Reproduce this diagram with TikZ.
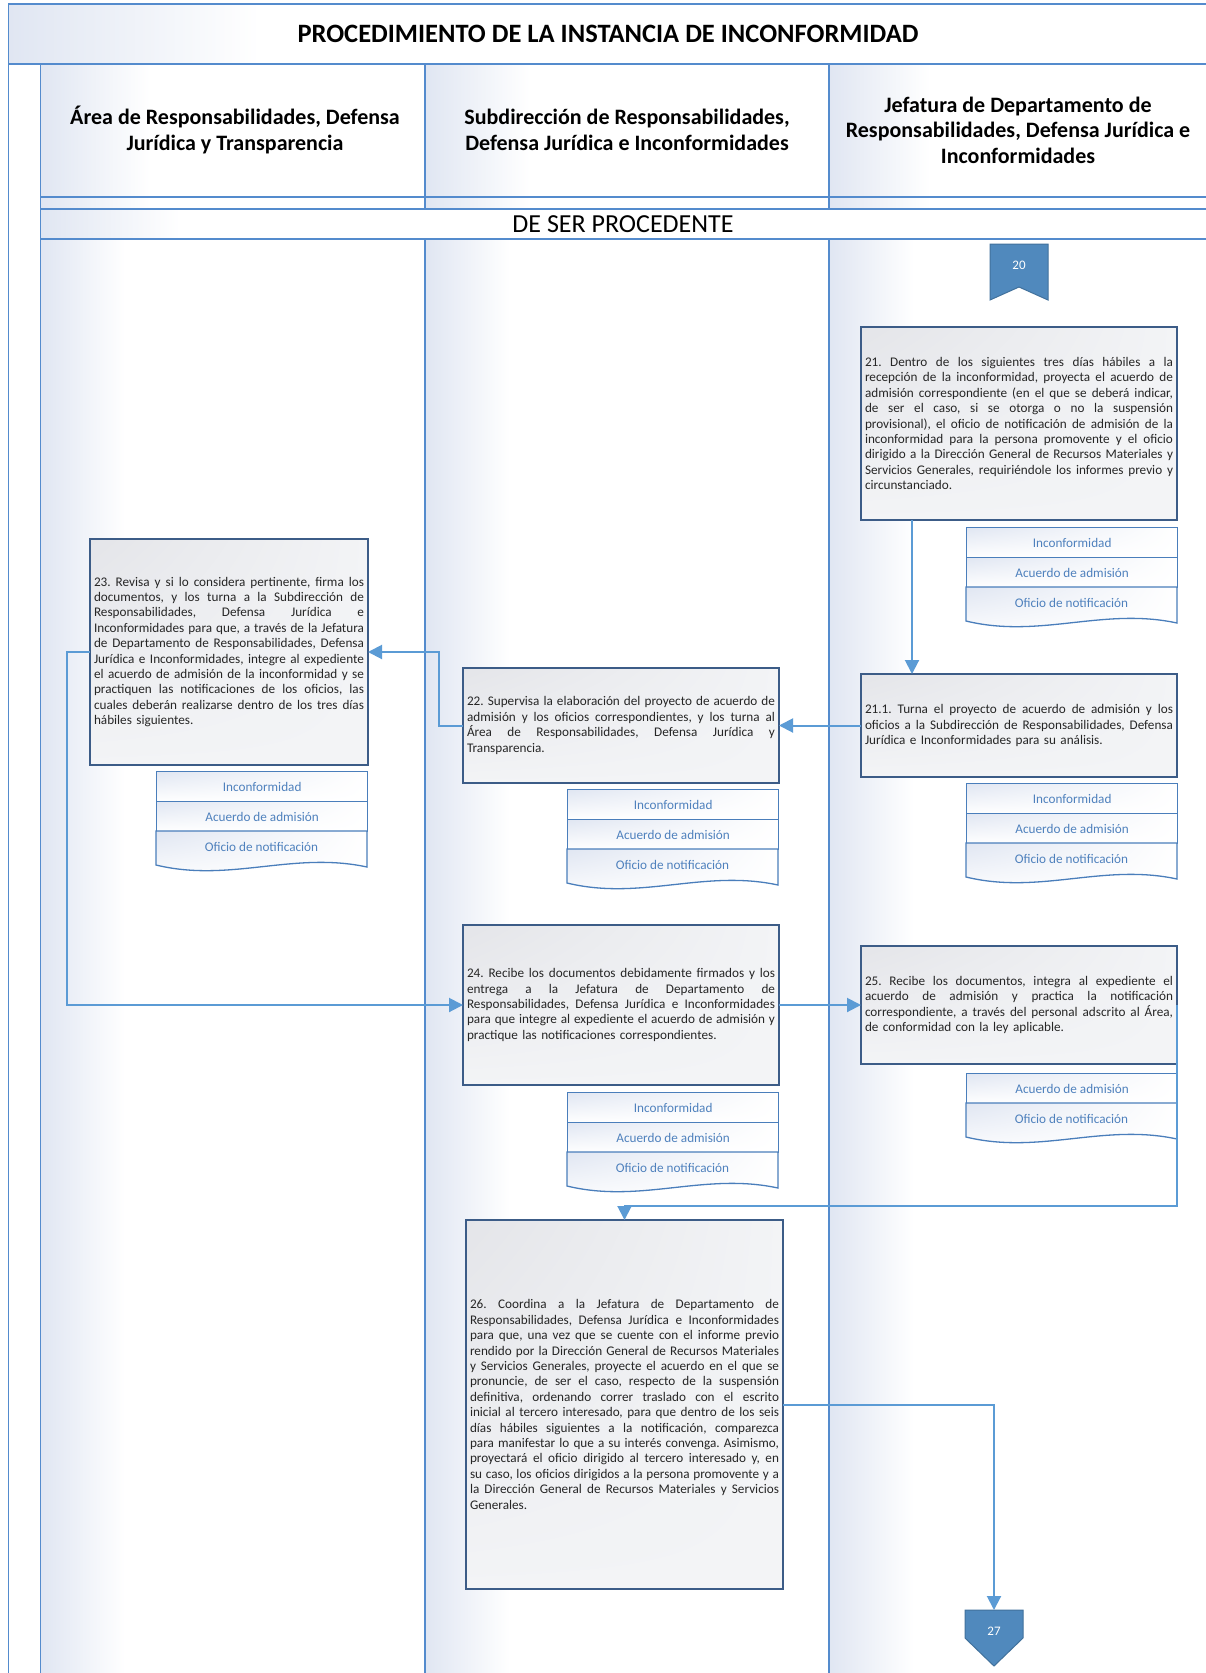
\documentclass[tikz,border=0pt]{standalone}
\usepackage{fontspec}
\setmainfont{Carlito}
\usetikzlibrary{arrows.meta,calc,shadings}

\definecolor{laneline}{RGB}{84,139,205}
\definecolor{conncol}{RGB}{91,155,213}
\definecolor{boxline}{RGB}{60,92,135}
\definecolor{boxtl}{RGB}{228,229,233}
\definecolor{boxrest}{RGB}{243,244,246}
\definecolor{grad}{RGB}{224,230,242}
\definecolor{doctext}{RGB}{79,129,189}
\definecolor{docline}{RGB}{74,126,187}
\definecolor{pagefill}{RGB}{80,137,189}
\definecolor{pageline}{RGB}{65,113,156}
\definecolor{ink}{RGB}{38,38,38}

\frenchspacing
% one fully justified line of a step description
\newcommand\jl[1]{\leavevmode\hbox to\hsize{\spaceskip=0.23em plus 3em minus 0.05em\relax #1}\\}
% one row of a document stack
\newcommand\docrow[4]{\node[docrow, anchor=north west] (#1) at (#2,#3) {#4};}
% last row of a document stack, with the wavy bottom edge
\newcommand\doclast[4]{%
  \shade[upper left=grad, upper right=white, lower left=white, lower right=white,
         draw=docline, line width=1.3pt]
    (#2,#3) -- ({#2+211},#3) -- ({#2+211},{#3+36})
    .. controls ({#2+137},{#3+20}) and ({#2+74},{#3+52}) .. (#2,{#3+34}) -- cycle;
  \node[docfont] (#1) at ({#2+105.5},{#3+16}) {#4};}

\tikzset{
  lane/.style={draw=laneline, line width=1.6pt},
  stepbox/.style={draw=boxline, line width=1.5pt, inner sep=0pt, outer sep=0pt,
    upper left=boxtl, upper right=boxrest, lower left=boxrest, lower right=boxrest,
    font=\fontsize{13.2}{15.4}\selectfont, text=ink, align=left, anchor=north west},
  docfont/.style={font=\fontsize{13.2}{15}\selectfont, text=doctext},
  docrow/.style={docfont, draw=docline, line width=1.3pt, inner sep=0pt,
    minimum width=211pt, minimum height=30pt,
    upper left=grad, upper right=white, lower left=white, lower right=white},
  hdr/.style={font=\bfseries\fontsize{22}{25.6}\selectfont, align=center},
  pagetxt/.style={font=\fontsize{13}{15}\selectfont, text=white},
  offpage/.style={fill=pagefill, draw=pageline, line width=1pt},
  conn/.style={draw=conncol, line width=2pt, -{Triangle[length=14pt,width=14pt]}}
}

\begin{document}
\begin{tikzpicture}[x=1pt,y=-1pt]
\useasboundingbox (0,0) rectangle (1206,1673);
\fill[white] (0,0) rectangle (1206,1673);

% soft gradients at the left edge of every band and lane
\shade[left color=grad, right color=white] (8.5,4) rectangle (260,64);
\shade[left color=grad, right color=white] (40.5,64) rectangle (150,209);
\shade[left color=grad, right color=white] (425,64) rectangle (530,209);
\shade[left color=grad, right color=white] (829,64) rectangle (930,209);
\shade[left color=grad, right color=white] (40.5,209) rectangle (180,239);
\shade[left color=grad, right color=white] (40.5,239) rectangle (125,1673);
\shade[left color=grad, right color=white] (425,239) rectangle (510,1673);
\shade[left color=grad, right color=white] (829,239) rectangle (914,1673);

% frame, header rows and swimlanes
\draw[lane] (8.5,1673) -- (8.5,4) -- (1206,4);
\draw[lane] (8.5,64) -- (1206,64);
\draw[lane] (40.5,64) -- (40.5,1673);
\draw[lane] (425,64) -- (425,209);
\draw[lane] (425,239) -- (425,1673);
\draw[lane] (829,64) -- (829,209);
\draw[lane] (829,239) -- (829,1673);
\draw[lane] (40.5,197) -- (1206,197);
\draw[lane] (40.5,209) -- (1206,209);
\draw[lane] (40.5,239) -- (1206,239);

\node[font=\bfseries\fontsize{26.5}{30}\selectfont] (title) at (608,34)
  {PROCEDIMIENTO DE LA INSTANCIA DE INCONFORMIDAD};
\node[hdr] (h1) at (235,130) {Área de Responsabilidades, Defensa\\Jurídica y Transparencia};
\node[hdr] (h2) at (627,130) {Subdirección de Responsabilidades,\\Defensa Jurídica e Inconformidades};
\node[hdr] (h3) at (1018,130) {Jefatura de Departamento de\\Responsabilidades, Defensa Jurídica e\\Inconformidades};
\node[font=\fontsize{26}{30}\selectfont] (phase) at (623,224) {DE SER PROCEDENTE};

% incoming page reference 20
\draw[offpage] (990,244) -- (1048,244) -- (1048,300) -- (1019,287) -- (990,300) -- cycle;
\node[pagetxt] (p20) at (1019,265) {20};

% steps
\node[stepbox, text width=308pt, minimum width=316pt, minimum height=193pt] (b21) at (861,327)
 {\jl{21. Dentro de los siguientes tres días hábiles a la}%
  \jl{recepción de la inconformidad, proyecta el acuerdo de}%
  \jl{admisión correspondiente (en el que se deberá indicar,}%
  \jl{de ser el caso, si se otorga o no la suspensión}%
  \jl{provisional), el oficio de notificación de admisión de la}%
  \jl{inconformidad para la persona promovente y el oficio}%
  \jl{dirigido a la Dirección General de Recursos Materiales y}%
  \jl{Servicios Generales, requiriéndole los informes previo y}%
  circunstanciado.};

\node[stepbox, text width=308pt, minimum width=316pt, minimum height=103pt] (b211) at (861,674)
 {\jl{21.1. Turna el proyecto de acuerdo de admisión y los}%
  \jl{oficios a la Subdirección de Responsabilidades, Defensa}%
  Jurídica e Inconformidades para su análisis.};

\node[stepbox, text width=308pt, minimum width=316pt, minimum height=115pt] (b22) at (463,668)
 {\jl{22. Supervisa la elaboración del proyecto de acuerdo de}%
  \jl{admisión y los oficios correspondientes, y los turna al}%
  \jl{Área de Responsabilidades, Defensa Jurídica y}%
  Transparencia.};

\node[stepbox, text width=270pt, minimum width=278pt, minimum height=226pt] (b23) at (90,539)
 {\jl{23. Revisa y si lo considera pertinente, firma los}%
  \jl{documentos, y los turna a la Subdirección de}%
  \jl{Responsabilidades, Defensa Jurídica e}%
  \jl{Inconformidades para que, a través de la Jefatura}%
  \jl{de Departamento de Responsabilidades, Defensa}%
  \jl{Jurídica e Inconformidades, integre al expediente}%
  \jl{el acuerdo de admisión de la inconformidad y se}%
  \jl{practiquen las notificaciones de los oficios, las}%
  \jl{cuales deberán realizarse dentro de los tres días}%
  hábiles siguientes.};

\node[stepbox, text width=308pt, minimum width=316pt, minimum height=160pt] (b24) at (463,925)
 {\jl{24. Recibe los documentos debidamente firmados y los}%
  \jl{entrega a la Jefatura de Departamento de}%
  \jl{Responsabilidades, Defensa Jurídica e Inconformidades}%
  \jl{para que integre al expediente el acuerdo de admisión y}%
  practique las notificaciones correspondientes.};

\node[stepbox, text width=308pt, minimum width=316pt, minimum height=118pt] (b25) at (861,946)
 {\jl{25. Recibe los documentos, integra al expediente el}%
  \jl{acuerdo de admisión y practica la notificación}%
  \jl{correspondiente, a través del personal adscrito al Área,}%
  de conformidad con la ley aplicable.};

\node[stepbox, text width=309pt, minimum width=317pt, minimum height=369pt] (b26) at (466,1220)
 {\jl{26. Coordina a la Jefatura de Departamento de}%
  \jl{Responsabilidades, Defensa Jurídica e Inconformidades}%
  \jl{para que, una vez que se cuente con el informe previo}%
  \jl{rendido por la Dirección General de Recursos Materiales}%
  \jl{y Servicios Generales, proyecte el acuerdo en el que se}%
  \jl{pronuncie, de ser el caso, respecto de la suspensión}%
  \jl{definitiva, ordenando correr traslado con el escrito}%
  \jl{inicial al tercero interesado, para que dentro de los seis}%
  \jl{días hábiles siguientes a la notificación, comparezca}%
  \jl{para manifestar lo que a su interés convenga. Asimismo,}%
  \jl{proyectará el oficio dirigido al tercero interesado y, en}%
  \jl{su caso, los oficios dirigidos a la persona promovente y a}%
  \jl{la Dirección General de Recursos Materiales y Servicios}%
  Generales.};

% document stacks
\docrow{d21a}{966}{527}{Inconformidad}
\docrow{d21b}{966}{557}{Acuerdo de admisión}
\doclast{d21c}{966}{587}{Oficio de notificación}

\docrow{d211a}{966}{783}{Inconformidad}
\docrow{d211b}{966}{813}{Acuerdo de admisión}
\doclast{d211c}{966}{843}{Oficio de notificación}

\docrow{d22a}{567}{789}{Inconformidad}
\docrow{d22b}{567}{819}{Acuerdo de admisión}
\doclast{d22c}{567}{849}{Oficio de notificación}

\docrow{d23a}{156}{771}{Inconformidad}
\docrow{d23b}{156}{801}{Acuerdo de admisión}
\doclast{d23c}{156}{831}{Oficio de notificación}

\docrow{d24a}{567}{1092}{Inconformidad}
\docrow{d24b}{567}{1122}{Acuerdo de admisión}
\doclast{d24c}{567}{1152}{Oficio de notificación}

\docrow{d25a}{966}{1073}{Acuerdo de admisión}
\doclast{d25b}{966}{1103}{Oficio de notificación}

% outgoing page reference 27
\draw[offpage] (965,1610) -- (1023,1610) -- (1023,1638) -- (994,1666) -- (965,1638) -- cycle;
\node[pagetxt] (p27) at (994,1631) {27};
\coordinate (p27top) at (994,1610);

% connectors
\draw[conn] ([xshift=51pt]b21.south west) -- ([xshift=51pt]b211.north west);
\draw[conn] (b211.west) -- (b22.east);
\draw[conn] (b22.west) -- ++(-24,0) |- (b23.east);
\draw[conn] (b23.west) -- ++(-23,0) |- (b24.west);
\draw[conn] (b24.east) -- (b25.west);
\draw[conn] (b25.east) -- ++(0,201) -| (b26.north);
\draw[conn] (b26.east) -| (p27top);
\end{tikzpicture}
\end{document}
